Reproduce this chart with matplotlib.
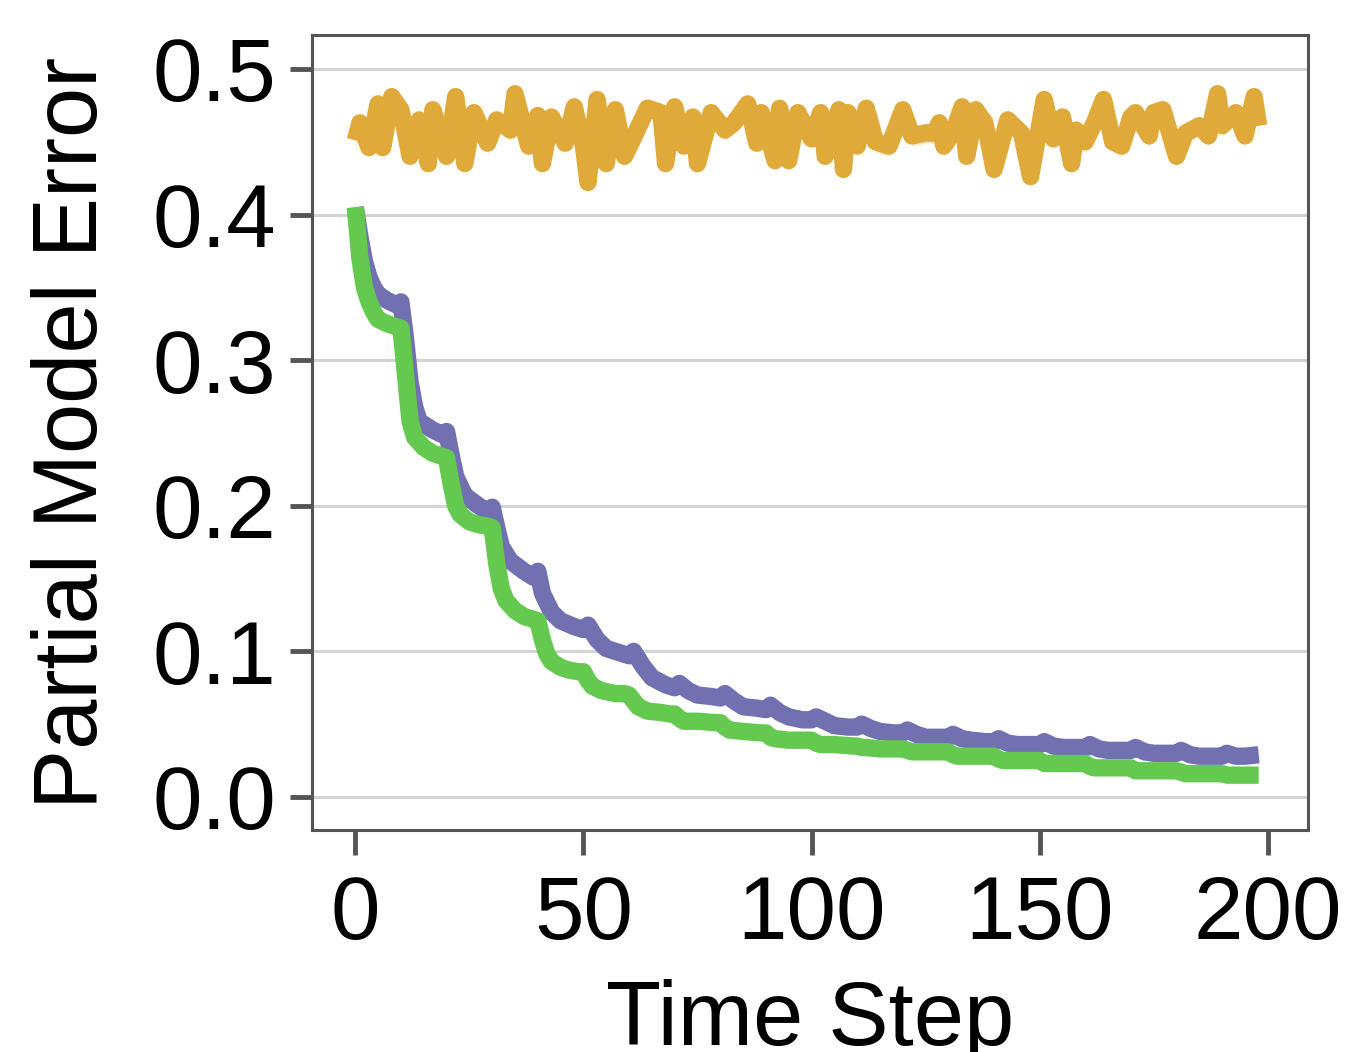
import matplotlib
matplotlib.use("Agg")
import matplotlib.pyplot as plt
import numpy as np

# ---- data ----
orange_x = [0, 1, 3, 5, 6, 8, 10, 12, 14, 16, 17, 20, 22, 24, 26, 29, 31, 34, 35, 38, 40, 41, 43, 46, 48, 50, 51, 53, 55, 57, 59, 61, 64, 67, 68, 70, 72, 74, 75, 78, 81, 83, 86, 88, 89, 92, 93, 95, 97, 100, 102, 103, 106, 107, 108, 110, 112, 114, 117, 120, 122, 125, 127, 128, 129, 131, 133, 134, 136, 138, 140, 143, 146, 148, 151, 153, 155, 157, 158, 160, 162, 164, 166, 168, 170, 171, 174, 175, 177, 180, 182, 185, 187, 189, 190, 193, 195, 197, 198]
orange_y = [0.451, 0.463, 0.446, 0.476, 0.446, 0.481, 0.472, 0.440, 0.465, 0.435, 0.472, 0.440, 0.481, 0.435, 0.470, 0.449, 0.465, 0.458, 0.483, 0.447, 0.468, 0.435, 0.467, 0.449, 0.474, 0.447, 0.422, 0.479, 0.435, 0.472, 0.440, 0.453, 0.473, 0.470, 0.435, 0.474, 0.447, 0.467, 0.435, 0.470, 0.458, 0.463, 0.476, 0.449, 0.470, 0.437, 0.473, 0.437, 0.470, 0.452, 0.470, 0.440, 0.472, 0.431, 0.470, 0.447, 0.473, 0.450, 0.447, 0.472, 0.454, 0.456, 0.456, 0.463, 0.447, 0.456, 0.474, 0.440, 0.472, 0.463, 0.431, 0.465, 0.456, 0.426, 0.479, 0.452, 0.467, 0.435, 0.458, 0.450, 0.463, 0.479, 0.450, 0.447, 0.467, 0.470, 0.454, 0.470, 0.472, 0.440, 0.456, 0.461, 0.454, 0.483, 0.461, 0.470, 0.454, 0.481, 0.461]

purple_x = [0, 1, 2, 3, 4, 5, 7, 9, 10, 11, 12, 13, 14, 17, 19, 20, 21, 22, 24, 27, 29, 30, 31, 32, 34, 37, 39, 40, 41, 43, 45, 48, 50, 51, 53, 55, 58, 60, 61, 63, 65, 68, 70, 71, 73, 75, 78, 80, 81, 83, 85, 88, 90, 91, 93, 95, 98, 100, 101, 103, 105, 108, 110, 111, 113, 115, 118, 120, 121, 123, 125, 128, 130, 131, 133, 135, 138, 140, 141, 143, 145, 148, 150, 151, 153, 155, 158, 160, 161, 163, 165, 168, 170, 171, 173, 175, 178, 180, 181, 183, 185, 188, 190, 191, 193, 195, 198]
purple_y = [0.405, 0.385, 0.368, 0.357, 0.350, 0.345, 0.341, 0.338, 0.340, 0.315, 0.285, 0.268, 0.258, 0.252, 0.249, 0.251, 0.235, 0.220, 0.207, 0.200, 0.196, 0.199, 0.185, 0.172, 0.162, 0.155, 0.151, 0.155, 0.140, 0.127, 0.121, 0.117, 0.115, 0.118, 0.108, 0.102, 0.099, 0.097, 0.100, 0.090, 0.082, 0.077, 0.075, 0.078, 0.073, 0.070, 0.069, 0.068, 0.071, 0.066, 0.062, 0.061, 0.060, 0.063, 0.058, 0.055, 0.053, 0.053, 0.055, 0.052, 0.049, 0.048, 0.048, 0.050, 0.047, 0.045, 0.044, 0.044, 0.046, 0.043, 0.041, 0.041, 0.041, 0.043, 0.040, 0.039, 0.038, 0.038, 0.040, 0.037, 0.036, 0.036, 0.036, 0.038, 0.035, 0.034, 0.034, 0.034, 0.036, 0.033, 0.032, 0.032, 0.032, 0.034, 0.031, 0.030, 0.030, 0.030, 0.032, 0.029, 0.028, 0.028, 0.028, 0.030, 0.028, 0.028, 0.029]

green_x = [0, 1, 2, 3, 4, 5, 7, 9, 10, 11, 12, 13, 15, 17, 19, 20, 21, 22, 23, 25, 27, 29, 30, 31, 32, 33, 35, 37, 39, 40, 41, 42, 43, 45, 47, 49, 50, 51, 52, 54, 57, 59, 60, 61, 62, 64, 67, 69, 70, 71, 72, 75, 79, 80, 81, 82, 85, 89, 90, 91, 92, 95, 99, 100, 101, 102, 105, 109, 110, 111, 112, 115, 119, 120, 121, 122, 125, 129, 130, 131, 132, 135, 139, 140, 141, 142, 145, 149, 150, 151, 152, 155, 159, 160, 161, 162, 165, 169, 170, 171, 172, 175, 179, 180, 181, 182, 185, 189, 190, 191, 192, 195, 198]
green_y = [0.405, 0.370, 0.350, 0.340, 0.333, 0.328, 0.325, 0.323, 0.322, 0.290, 0.258, 0.247, 0.240, 0.236, 0.234, 0.233, 0.215, 0.200, 0.194, 0.189, 0.187, 0.186, 0.185, 0.160, 0.143, 0.135, 0.128, 0.124, 0.122, 0.121, 0.108, 0.098, 0.093, 0.089, 0.087, 0.086, 0.086, 0.080, 0.076, 0.073, 0.071, 0.071, 0.070, 0.066, 0.062, 0.059, 0.058, 0.057, 0.057, 0.054, 0.052, 0.052, 0.051, 0.051, 0.048, 0.046, 0.045, 0.044, 0.044, 0.041, 0.040, 0.039, 0.039, 0.039, 0.037, 0.036, 0.036, 0.035, 0.035, 0.034, 0.034, 0.033, 0.033, 0.033, 0.032, 0.031, 0.031, 0.031, 0.031, 0.029, 0.028, 0.028, 0.028, 0.028, 0.026, 0.025, 0.025, 0.025, 0.025, 0.023, 0.023, 0.023, 0.023, 0.023, 0.021, 0.020, 0.020, 0.020, 0.020, 0.018, 0.018, 0.018, 0.018, 0.018, 0.017, 0.016, 0.016, 0.016, 0.016, 0.015, 0.015, 0.015, 0.015]

x_ticks = [0, 50, 100, 150, 200]
y_ticks = [0.0, 0.1, 0.2, 0.3, 0.4, 0.5]

ORANGE = "#DFAA3A"
PURPLE = "#7171B2"
GREEN = "#64C94F"

plt.rcParams['font.family'] = ['Liberation Sans', 'DejaVu Sans']

fig = plt.figure(figsize=(13.47, 10.52), dpi=100)
ax = fig.add_axes([0.2316, 0.211, 0.7394, 0.7557])

# faint variability bands
oy = np.array(orange_y)
ax.fill_between(orange_x, oy - 0.007, oy + 0.007, color=ORANGE, alpha=0.25, lw=0)
py = np.array(purple_y)
ax.fill_between(purple_x, py - 0.004, py + 0.004, color=PURPLE, alpha=0.2, lw=0)
ax.plot(orange_x, orange_y, color=ORANGE, lw=12.5, solid_capstyle='butt', solid_joinstyle='round', zorder=3)
ax.plot(purple_x, purple_y, color=PURPLE, lw=12.5, solid_capstyle='butt', solid_joinstyle='round', zorder=3)
ax.plot(green_x, green_y, color=GREEN, lw=12.5, solid_capstyle='butt', solid_joinstyle='round', zorder=4)

ax.set_xlim(-9.5, 208.8)
ax.set_ylim(-0.0227, 0.5233)
ax.set_xticks(x_ticks)
ax.set_yticks(y_ticks)
ax.set_xticklabels([str(v) for v in x_ticks])
ax.set_yticklabels([f"{v:.1f}" for v in y_ticks])

ax.yaxis.grid(True, color="#D4D4D4", lw=2.2)
ax.set_axisbelow(True)
for s in ax.spines.values():
    s.set_color("#555555")
    s.set_linewidth(2.2)

ax.tick_params(axis='x', length=18, width=3.5, color="#555555", labelsize=64, pad=14)
ax.tick_params(axis='y', length=16, width=3.5, color="#555555", labelsize=64, pad=10)

ax.set_xlabel("Time Step", fontsize=65, labelpad=15)
ax.set_ylabel("Partial Model Error", fontsize=65, labelpad=26)

fig.savefig("out.png", dpi=100)
